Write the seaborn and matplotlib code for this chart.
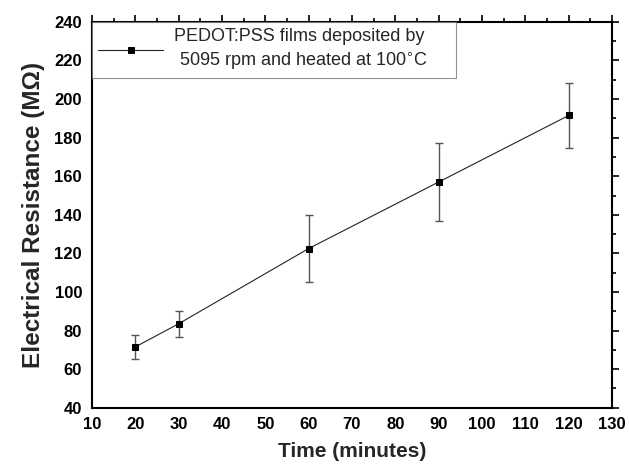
import numpy as np
import pandas as pd
import seaborn as sns
import matplotlib.pyplot as plt
from matplotlib.ticker import MultipleLocator

sns.set_style("white")
plt.rcParams["font.family"] = ["Liberation Sans", "DejaVu Sans"]

# valores
time_min = [20, 30, 60, 90, 120]
resistance = [71.5, 83.5, 122.5, 157.0, 191.5]
err = [6.0, 6.7, 17.3, 20.0, 16.7]
label = "PEDOT:PSS films deposited by\n 5095 rpm and heated at 100$^{\\circ}$C"

df = pd.DataFrame({"time": time_min, "res": resistance, "err": err})

fig = plt.figure(figsize=(6.29, 4.66), dpi=100)
ax = fig.add_axes([0.146, 0.125, 0.827, 0.828])

ax.errorbar(df["time"], df["res"], yerr=df["err"], fmt="none",
            ecolor="#555555", elinewidth=1, capsize=2.8, capthick=1, zorder=2)
sns.lineplot(data=df, x="time", y="res", ax=ax, color="#222222", lw=0.8,
             marker="s", markersize=5, markeredgecolor="black",
             markerfacecolor="black", label=label, zorder=3)

ax.set_xlim(10, 130)
ax.set_ylim(40, 240)
ax.xaxis.set_major_locator(MultipleLocator(10))
ax.xaxis.set_minor_locator(MultipleLocator(5))
ax.yaxis.set_major_locator(MultipleLocator(20))
ax.yaxis.set_minor_locator(MultipleLocator(10))
ax.tick_params(which="both", direction="out", top=True, right=True,
               labeltop=False, labelright=False, width=1.2, colors="black")
ax.tick_params(which="major", length=5, labelsize=12, pad=2)
ax.tick_params(which="minor", length=3)
for t in ax.get_xticklabels() + ax.get_yticklabels():
    t.set_fontweight("bold")
for s in ax.spines.values():
    s.set_linewidth(1.5)
    s.set_color("black")

ax.set_xlabel("Time (minutes)", fontsize=15, fontweight="bold", labelpad=7)
ax.set_ylabel("Electrical Resistance (M\u03a9)", fontsize=17.5, fontweight="bold", labelpad=7)

# caja de leyenda ancha como en el original
leg = ax.legend(loc="upper left", bbox_to_anchor=(0.0, 0.0, 0.70, 1.0),
                mode="expand", fontsize=13,
                frameon=True, fancybox=False, borderaxespad=0.0,
                handlelength=3.6, handletextpad=0.6, borderpad=0.35)
leg.get_frame().set_edgecolor("#777777")
leg.get_frame().set_linewidth(0.8)
for t in leg.get_texts():
    t.set_multialignment("left")
    t.set_linespacing(1.35)

fig.savefig("out.png", dpi=100)
